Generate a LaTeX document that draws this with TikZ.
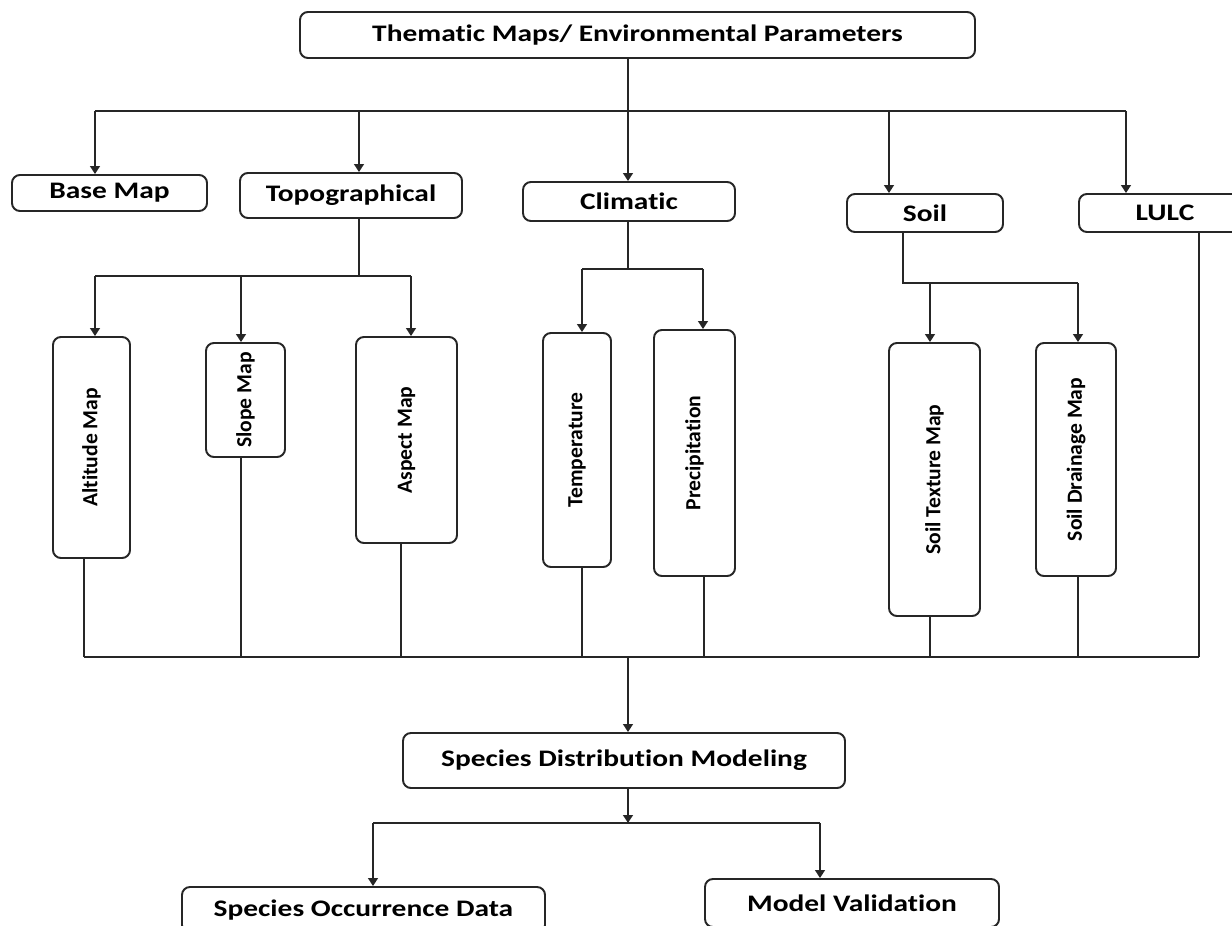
\documentclass[tikz,border=0pt]{standalone}
\usepackage{fontspec}
\newfontfamily\flatfont{Carlito}[FakeStretch=1.24, Ligatures={NoCommon, NoContextual}]
\newfontfamily\uprightfont{Carlito}[Ligatures={NoCommon, NoContextual}]
\usetikzlibrary{arrows.meta}
\def\px{0.02cm}

\begin{document}
\begin{tikzpicture}[x=0.02cm, y=-0.02cm, >={Triangle[length=4.5pt, width=5.5pt]},
    line width=1.1pt, draw=black!85,
    box/.style={draw=black!85, rounded corners=4.5pt, inner sep=0pt, align=center,
      font=\flatfont\bfseries\fontsize{13.5}{15}\selectfont},
    vbox/.style={box, font=\uprightfont\bfseries\fontsize{12.3}{14}\selectfont}]
    \useasboundingbox[fill=white] (0,0) rectangle (1232,926);

    \node[box, minimum width=675*\px, minimum height=46*\px] (top) at (637.5,35) {Thematic Maps/ Environmental Parameters};

    \node[box, minimum width=195*\px, minimum height=36*\px] (base) at (109.5,193) {Base Map};
    \node[box, minimum width=222*\px, minimum height=45*\px] (topo) at (351,195.5) {Topographical};
    \node[box, minimum width=212*\px, minimum height=39*\px] (clim) at (629,201.5) {Climatic};
    \node[box, minimum width=156*\px, minimum height=38*\px] (soil) at (925,213) {Soil};
    \node[box, minimum width=172*\px, minimum height=38*\px] (lulc) at (1165,213) {LULC};

    \node[vbox, minimum width=77*\px, minimum height=221*\px] (alt) at (91.5,447.5) {\rotatebox{90}{Altitude Map}};
    \node[vbox, minimum width=79*\px, minimum height=114*\px] (slope) at (245.5,400) {\rotatebox{90}{Slope Map}};
    \node[vbox, minimum width=101*\px, minimum height=206*\px] (aspect) at (406.5,440) {\rotatebox{90}{Aspect Map}};
    \node[vbox, minimum width=68*\px, minimum height=234*\px] (temp) at (577,450) {\rotatebox{90}{Temperature}};
    \node[vbox, minimum width=81*\px, minimum height=246*\px] (prec) at (694.5,453) {\rotatebox{90}{Precipitation}};
    \node[vbox, minimum width=91*\px, minimum height=273*\px] (tex) at (934.5,479.5) {\rotatebox{90}{Soil Texture Map}};
    \node[vbox, minimum width=80*\px, minimum height=233*\px] (drain) at (1076,459.5) {\rotatebox{90}{Soil Drainage Map}};

    \node[box, minimum width=442*\px, minimum height=55*\px] (sdm) at (624,760.5) {Species Distribution Modeling};
    \node[box, minimum width=363*\px, minimum height=46*\px] (sod) at (363.5,910) {Species Occurrence Data};
    \node[box, minimum width=294*\px, minimum height=48*\px] (mv) at (852,903) {Model Validation};

    % first level
    \coordinate (t1) at (95,111);
    \coordinate (t2) at (359,111);
    \coordinate (t3) at (628,111);
    \coordinate (t4) at (889,111);
    \coordinate (t5) at (1126,111);
    \draw (t3 |- top.south) -- (t3);
    \draw (t1) -- (t5);
    \foreach \c/\n in {t1/base, t2/topo, t3/clim, t4/soil, t5/lulc}
        \draw[->] (\c) -- (\c |- \n.north);

    % topographical
    \coordinate (g0) at (359,276);
    \coordinate (g1) at (95,276);
    \coordinate (g2) at (241,276);
    \coordinate (g3) at (411,276);
    \draw (g0 |- topo.south) -- (g0);
    \draw (g1) -- (g3);
    \foreach \c/\n in {g1/alt, g2/slope, g3/aspect}
        \draw[->] (\c) -- (\c |- \n.north);

    % climatic
    \coordinate (c0) at (628,269);
    \coordinate (c1) at (582,269);
    \coordinate (c2) at (703,269);
    \draw (c0 |- clim.south) -- (c0);
    \draw (c1) -- (c2);
    \foreach \c/\n in {c1/temp, c2/prec}
        \draw[->] (\c) -- (\c |- \n.north);

    % soil
    \coordinate (s0) at (903,283);
    \coordinate (s1) at (930,283);
    \coordinate (s2) at (1078,283);
    \draw (s0 |- soil.south) -- (s0) -- (s2);
    \foreach \c/\n in {s1/tex, s2/drain}
        \draw[->] (\c) -- (\c |- \n.north);

    % collecting line
    \foreach \n/\x in {alt/84, slope/241, aspect/401, temp/582, prec/704, tex/930, drain/1078, lulc/1199}{
        \coordinate (d\n) at (\x,657);
        \draw (d\n) -- (d\n |- \n.south);
    }
    \draw (dalt) -- (dlulc);
    \coordinate (j5) at (628,657);
    \draw[->] (j5) -- (j5 |- sdm.north);

    % modeling
    \coordinate (m0) at (628,823);
    \coordinate (m1) at (373,823);
    \coordinate (m2) at (820,823);
    \draw[->] (m0 |- sdm.south) -- (m0);
    \draw (m1) -- (m2);
    \foreach \c/\n in {m1/sod, m2/mv}
        \draw[->] (\c) -- (\c |- \n.north);
\end{tikzpicture}
\end{document}
